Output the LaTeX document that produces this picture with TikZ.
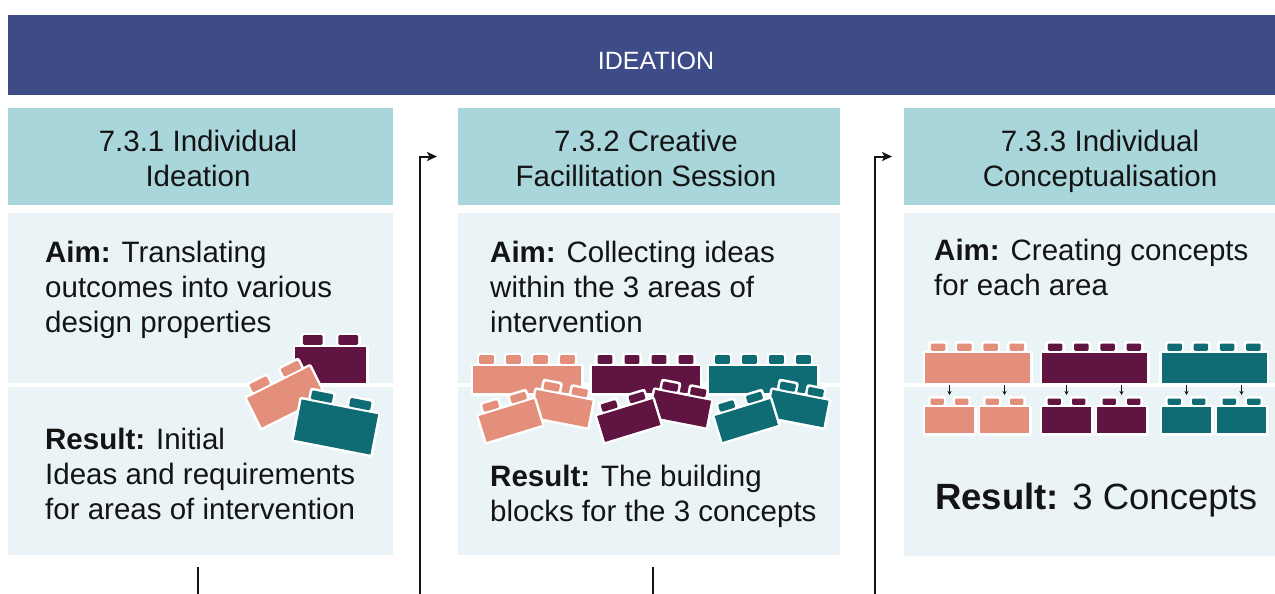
\documentclass[tikz,border=0pt]{standalone}
\usepackage{fontspec}
\setmainfont{Liberation Sans}
\usetikzlibrary{arrows.meta,calc}
\definecolor{bannerc}{HTML}{3D4C86}
\definecolor{headc}{HTML}{A9D6DB}
\definecolor{bodyc}{HTML}{EAF4F6}
\definecolor{salmon}{HTML}{E38F7B}
\definecolor{plum}{HTML}{5F1441}
\definecolor{teal}{HTML}{0F6C75}
\definecolor{ink}{HTML}{141414}

% one toy brick: centre x, centre y, angle, width, height, studs, stud height, colour
\newcommand\legobrick[8]{%
  \begin{scope}[shift={({#1},{#2})},rotate=#3]
    \pgfmathsetmacro\brw{#4/2}\pgfmathsetmacro\brh{#5/2}%
    \pgfmathsetmacro\brp{#4/#6}\pgfmathsetmacro\brs{0.55*#4/#6/2}%
    % white outline behind the brick
    \filldraw[white,line width=5pt,line join=round]
      (-\brw,-\brh) rectangle (\brw,\brh)
      foreach \k in {1,...,#6}{({-\brw+(\k-0.5)*\brp-\brs},{-\brh}) rectangle ({-\brw+(\k-0.5)*\brp+\brs},{-\brh-#7})};
    \fill[#8] (-\brw,-\brh) rectangle (\brw,\brh);
    \foreach \k in {1,...,#6}{\fill[#8,rounded corners=1.2pt] ({-\brw+(\k-0.5)*\brp-\brs},{-\brh-2.2}) rectangle ({-\brw+(\k-0.5)*\brp+\brs},{-\brh-#7});}
  \end{scope}}

\begin{document}
\begin{tikzpicture}[x=1pt,y=-1pt,
  box/.style={inner sep=0pt,outer sep=0pt,anchor=north west},
  headbox/.style={box,fill=headc,minimum height=97pt},
  panel/.style={box,fill=bodyc},
  bodytxt/.style={inner sep=0pt,align=left,anchor=base west,text=ink,font=\fontsize{29.5}{35}\selectfont},
  headtxt/.style={inner sep=0pt,align=center,anchor=base,text=ink,font=\fontsize{29.5}{34.5}\selectfont},
  flow/.style={line width=2pt,draw=ink,-{Stealth[length=10pt,width=9pt,inset=2.5pt]}},
  stub/.style={line width=2pt,draw=ink},
  split/.style={line width=1pt,draw=ink,-{Stealth[length=4pt,width=4pt]}}]
\useasboundingbox (0,0) rectangle (1275,594);
\clip (0,0) rectangle (1275,594);
\fill[white] (0,0) rectangle (1275,594);

% banner
\node[box,fill=bannerc,minimum width=1300pt,minimum height=80pt] (banner) at (8,15) {};
\node[inner sep=0pt,anchor=base,text=white,font=\fontsize{25}{30}\selectfont] (title) at (656,70) {IDEATION};

% column headers (a multi-line node sits on the baseline of its last line)
\node[headbox,minimum width=385pt] (h1) at (8,108) {};
\node[headbox,minimum width=382pt] (h2) at (458,108) {};
\node[headbox,minimum width=392pt] (h3) at (904,108) {};
\node[headtxt] (h1t) at (198,186) {7.3.1 Individual\\Ideation};
\node[headtxt] (h2t) at (646,186) {7.3.2 Creative\\Facillitation Session};
\node[headtxt] (h3t) at (1100,186) {7.3.3 Individual\\Conceptualisation};

% panels: aim (upper) and result (lower)
\node[panel,minimum width=385pt,minimum height=170pt] (a1) at (8,213) {};
\node[panel,minimum width=385pt,minimum height=168pt] (r1) at (8,387) {};
\node[panel,minimum width=382pt,minimum height=170pt] (a2) at (458,213) {};
\node[panel,minimum width=382pt,minimum height=168pt] (r2) at (458,387) {};
\node[panel,minimum width=392pt,minimum height=170pt] (a3) at (904,213) {};
\node[panel,minimum width=392pt,minimum height=169pt] (r3) at (904,387) {};

% texts
\node[bodytxt] (a1t) at (45,332) {\textbf{Aim:} Translating\\outcomes into various\\design properties};
\node[bodytxt] (r1t) at (45,519) {\textbf{Result:} Initial\\Ideas and requirements\\for areas of intervention};
\node[bodytxt] (a2t) at (490,332) {\textbf{Aim:} Collecting ideas\\within the 3 areas of\\intervention};
\node[bodytxt] (r2t) at (490,521) {\textbf{Result:} The building\\blocks for the 3 concepts};
\node[bodytxt] (a3t) at (934,295) {\textbf{Aim:} Creating concepts\\for each area};
\node[bodytxt,font=\fontsize{36.5}{40}\selectfont] (r3t) at (935,509) {\textbf{Result:} 3 Concepts};

% bricks, column 1
\legobrick{330.5}{365}{0}{71}{36}{2}{12}{plum}
\legobrick{285.7}{397.1}{26.6}{70}{33}{2}{11}{salmon}
\legobrick{336}{427}{-11}{78}{41}{2}{11}{teal}

% bricks, column 2
\foreach \dx/\col in {0/salmon,118.5/plum,236/teal}{
  \legobrick{527+\dx}{379.5}{0}{108}{27}{4}{11}{\col}
  \legobrick{562+\dx}{408.6}{-11}{57}{27}{2}{10}{\col}
  \legobrick{510.3+\dx}{420.5}{17}{58}{27}{2}{10}{\col}
}

% bricks, column 3: each large brick splits into two
\foreach \cx/\lx/\rx/\col in {977.5/949.5/1004.5/salmon,1094.5/1066.5/1121.5/plum,1214/1186.5/1241.5/teal}{
  \legobrick{\cx}{368}{0}{105}{30}{4}{9.5}{\col}
  \legobrick{\lx}{420}{0}{49}{26}{2}{8.5}{\col}
  \legobrick{\rx}{420}{0}{49}{26}{2}{8.5}{\col}
  \draw[split] (\lx,385) -- (\lx,395);
  \draw[split] (\rx,385) -- (\rx,395);
}

% connectors
\coordinate (in2) at (420,594);
\coordinate (in3) at (875,594);
\coordinate (out1) at (197.5,594);
\coordinate (out2) at (653,594);
\draw[flow] (in2) |- ($(h2.west)+(-21,0)$);
\draw[flow] (in3) |- ($(h3.west)+(-12,0)$);
\draw[stub] (out1 |- r1.south) ++(0,12) -- (out1);
\draw[stub] (out2 |- r2.south) ++(0,12) -- (out2);
\end{tikzpicture}
\end{document}
